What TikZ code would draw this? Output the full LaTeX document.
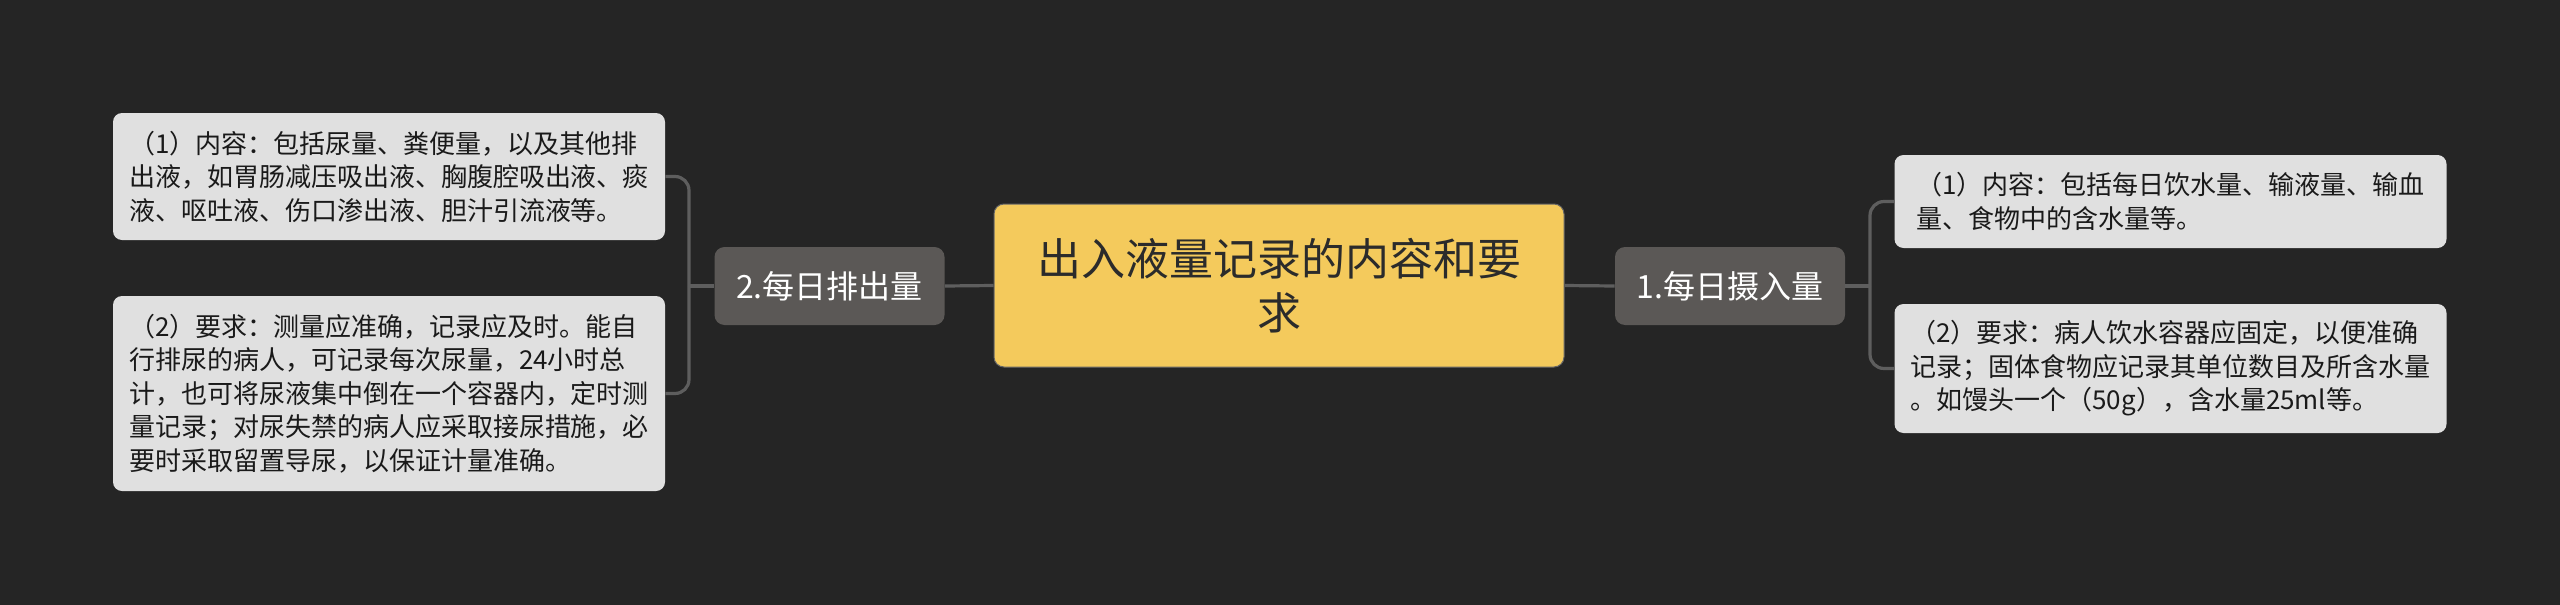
\documentclass[tikz,border=0pt]{standalone}
\usepackage{fontspec}
\setmainfont{Noto Sans CJK SC}
\definecolor{bg}{HTML}{252525}
\definecolor{rootfill}{HTML}{F4CA5C}
\definecolor{rootText}{HTML}{2B2B2B}
\definecolor{midfill}{HTML}{5B5856}
\definecolor{leaffill}{HTML}{E0E0E0}
\definecolor{leaftext}{HTML}{1A1A1A}
\definecolor{linecol}{HTML}{5E5E5E}
\begin{document}
\begin{tikzpicture}[x=0.5pt,y=-0.5pt,
  rootbox/.style={fill=rootfill, draw=black!60, line width=0.5pt, rounded corners=5pt, minimum width=285pt, minimum height=81.5pt, inner sep=0pt, align=center, text=rootText, font=\fontsize{22pt}{27pt}\selectfont},
  midbox/.style={fill=midfill, rounded corners=5pt, minimum width=115pt, minimum height=39pt, inner sep=0pt, text=white, font=\fontsize{16pt}{20pt}\selectfont},
  leafbox/.style={fill=leaffill, rounded corners=4.5pt, minimum width=276pt, inner sep=0pt, align=left, text=leaftext, font=\fontsize{13pt}{16.75pt}\selectfont},
  conn/.style={draw=linecol, line width=1.6pt},
  bconn/.style={draw=linecol, line width=1.6pt, rounded corners=7pt}]
\fill[bg] (0,0) rectangle (2560,605);
\useasboundingbox (0,0) rectangle (2560,605);

\node[rootbox] (root) at (1279,285.5) {出入液量记录的内容和要\\求};
\node[midbox] (n2) at (829.5,286) {2.每日排出量};
\node[midbox] (n1) at (1730,286) {1.每日摄入量};

\node[leafbox, minimum height=63.5pt] (L1) at (389,176.5) {（1）内容：包括尿量、粪便量，以及其他排\\出液，如胃肠减压吸出液、胸腹腔吸出液、痰\\液、呕吐液、伤口渗出液、胆汁引流液等。};
\node[leafbox, minimum height=97.5pt] (L2) at (389,393.5) {（2）要求：测量应准确，记录应及时。能自\\行排尿的病人，可记录每次尿量，24小时总\\计，也可将尿液集中倒在一个容器内，定时测\\量记录；对尿失禁的病人应采取接尿措施，必\\要时采取留置导尿，以保证计量准确。};
\node[leafbox, minimum height=46.5pt] (R1) at (2170.5,201.5) {（1）内容：包括每日饮水量、输液量、输血\\量、食物中的含水量等。};
\node[leafbox, minimum height=64.5pt] (R2) at (2170.5,368.5) {（2）要求：病人饮水容器应固定，以便准确\\记录；固体食物应记录其单位数目及所含水量\\。如馒头一个（50g），含水量25ml等。};

\coordinate (jL) at (689,286);
\coordinate (jR) at (1870,286);

\draw[conn] (root.west) -- (n2.east);
\draw[conn] (n2.west) -- (jL);
\draw[bconn] (jL) |- (L1.east);
\draw[bconn] (jL) |- (L2.east);

\draw[conn] (root.east) -- (n1.west);
\draw[conn] (n1.east) -- (jR);
\draw[bconn] (jR) |- (R1.west);
\draw[bconn] (jR) |- (R2.west);
\end{tikzpicture}
\end{document}
